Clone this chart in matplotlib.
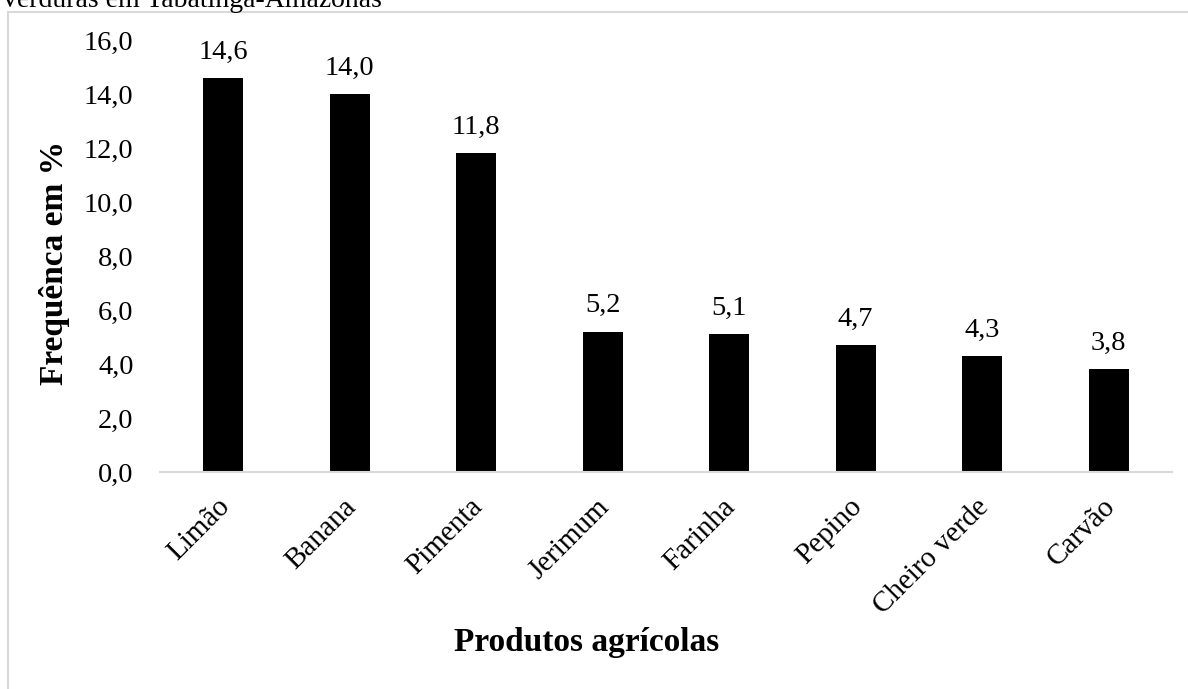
import matplotlib
matplotlib.use("Agg")
import matplotlib.pyplot as plt
from matplotlib.patches import Rectangle
from matplotlib.transforms import ScaledTranslation

produtos = ["Limão", "Banana", "Pimenta", "Jerimum", "Farinha", "Pepino", "Cheiro verde", "Carvão"]
frequencia = [14.6, 14.0, 11.8, 5.2, 5.1, 4.7, 4.3, 3.8]
yticks = [0, 2, 4, 6, 8, 10, 12, 14, 16]

plt.rcParams["font.family"] = ["Liberation Serif", "DejaVu Serif"]

W, H = 1188, 689
fig = plt.figure(figsize=(W / 100, H / 100), dpi=100)

# outer chart frame
fig.patches.append(Rectangle((8 / W, -0.1), 1.2, 1 - 12 / H + 0.1,
                             transform=fig.transFigure, fill=False,
                             edgecolor="#d9d9d9", linewidth=1.5, zorder=0))

fig.text(0, 1 - 7 / H, "Verduras em Tabatinga-Amazonas", fontsize=20,
         ha="left", va="baseline")

ax = fig.add_axes([160 / W, 1 - 472 / H, (1172 - 160) / W, (472 - 40) / H])
x = list(range(len(produtos)))
ax.bar(x, frequencia, width=0.315, color="black")
ax.set_xlim(-0.5, len(produtos) - 0.5)
ax.set_ylim(0, 16)
ax.set_yticks(yticks)
ax.set_yticklabels([f"{v:.1f}".replace(".", ",") for v in yticks], fontsize=20.5)
ax.set_xticks(x)
ax.set_xticklabels(produtos, rotation=45, ha="right", rotation_mode="anchor", fontsize=21)
ax.tick_params(axis="both", length=0)
ax.tick_params(axis="x", pad=12)
ax.tick_params(axis="y", pad=19)

shift = ScaledTranslation(-7 / 100, -5 / 100, fig.dpi_scale_trans)
for lbl in ax.get_xticklabels():
    lbl.set_transform(lbl.get_transform() + shift)

for s in ["top", "right", "left"]:
    ax.spines[s].set_visible(False)
ax.spines["bottom"].set_color("#d9d9d9")
ax.spines["bottom"].set_linewidth(1.5)

for xi, v in zip(x, frequencia):
    ax.annotate(f"{v:.1f}".replace(".", ","), (xi, v), xytext=(0, 9.5),
                textcoords="offset points", ha="center", va="bottom", fontsize=20.5)

fig.text(55 / W, 1 - 263 / H, "Frequênca em %", fontsize=24, fontweight="bold",
         rotation=90, ha="center", va="center")
fig.text(587 / W, 1 - 642 / H, "Produtos agrícolas", fontsize=24, fontweight="bold",
         ha="center", va="center")

fig.savefig("out.png", dpi=100)
